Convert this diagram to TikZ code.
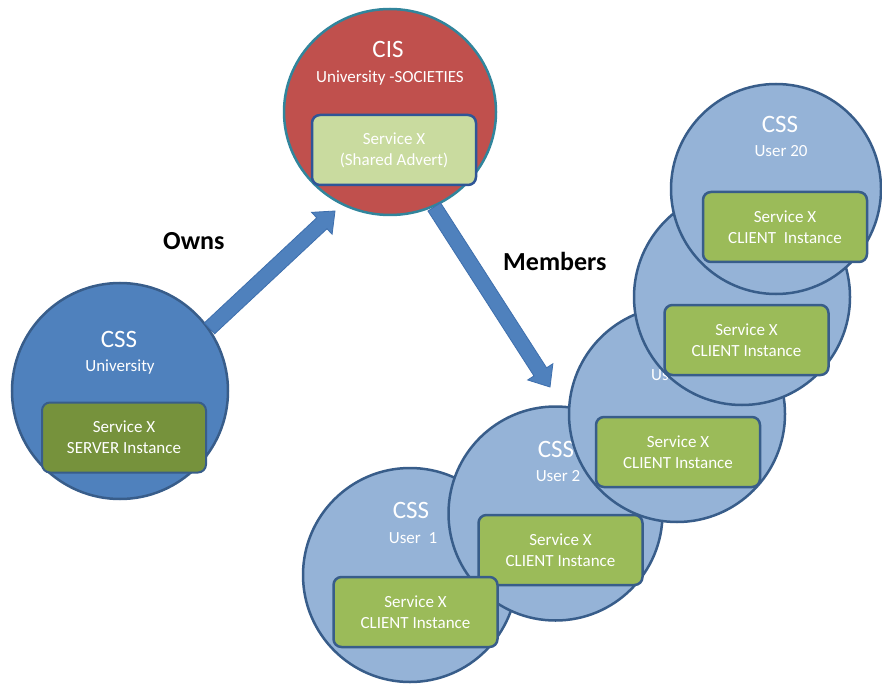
\documentclass[tikz,border=0pt]{standalone}
\usepackage{fontspec}
\setmainfont{Carlito}
\usetikzlibrary{calc,shapes.geometric}
\definecolor{uniblue}{HTML}{4F81BD}
\definecolor{darkblue}{HTML}{385D8A}
\definecolor{lightblue}{HTML}{95B3D7}
\definecolor{cisred}{HTML}{C0504D}
\definecolor{cisedge}{HTML}{31859C}
\definecolor{olivebox}{HTML}{76923C}
\definecolor{greenbox}{HTML}{9BBB59}
\definecolor{palegreen}{HTML}{C9DB9F}
\definecolor{boxblue}{HTML}{2F5597}
\definecolor{arrowedge}{HTML}{3E6FAD}
\newcommand{\blockarrow}[2]{%
  \coordinate (#1-h) at ($(#2)!18pt!(#1)$);
  \filldraw[fill=uniblue, draw=arrowedge, line width=0.8pt, line join=miter]
    ($(#1)!7.5pt!90:(#2)$) -- ($(#1-h)!7.5pt!-90:(#1)$) -- ($(#1-h)!15pt!-90:(#1)$)
    -- (#2) -- ($(#1-h)!15pt!90:(#1)$) -- ($(#1-h)!7.5pt!90:(#1)$)
    -- ($(#1)!7.5pt!-90:(#2)$) -- cycle;
}
\tikzset{
  usercirc/.style={circle, draw=darkblue, fill=lightblue, line width=2.5pt, minimum size=#1, inner sep=0pt},
  svcbox/.style={rectangle, rounded corners=8pt, draw=darkblue, fill=greenbox, line width=2.5pt,
    minimum width=164pt, minimum height=70pt, inner sep=0pt, align=center, text=white,
    font=\fontsize{17}{21}\selectfont},
  bigtitle/.style={anchor=base, text=white, inner sep=0pt, font=\fontsize{25}{30}\selectfont},
  subtitle/.style={anchor=base, text=white, inner sep=0pt, font=\fontsize{17}{21}\selectfont},
  arrowlabel/.style={anchor=base west, inner sep=0pt, text=black, font=\fontsize{26}{31}\selectfont\bfseries},
}
\begin{document}
\begin{tikzpicture}[x=1pt, y=-1pt]
\useasboundingbox (0,0) rectangle (882,684);
\fill[white] (0,0) rectangle (882,684);

% University CSS
\node[circle, draw=darkblue, fill=uniblue, line width=2.5pt, minimum size=216pt, inner sep=0pt] (uni) at (120,391) {};
\node[bigtitle] (uniT) at (119,347) {CSS};
\node[subtitle] (uniS) at (120,371) {University};

% CIS
\node[ellipse, draw=cisedge, fill=cisred, line width=2.5pt, minimum width=212pt, minimum height=206pt, inner sep=0pt] (cis) at (390,112) {};
\node[bigtitle] (cisT) at (388,58) {CIS};
\node[subtitle] (cisS) at (390,83) {University -SOCIETIES};

% user circles
\node[usercirc=214pt] (u1) at (410,575) {};
\node[bigtitle] (u1T) at (411,518) {CSS};
\node[subtitle] (u1S) at (413,543) {User~ 1};

\node[usercirc=214pt] (u2) at (555.5,513.5) {};
\node[bigtitle] (u2T) at (556,457) {CSS};
\node[subtitle] (u2S) at (558,481) {User 2};

\node[usercirc=216pt] (u3) at (677,414) {};
\node[subtitle, anchor=base west] (u3S) at (651,380) {Us};

\node[usercirc=216pt] (u4) at (742,297) {};

\node[usercirc=210pt] (u20) at (776,189) {};
\node[bigtitle] (u20T) at (780,133) {CSS};
\node[subtitle] (u20S) at (781,157) {User 20};

% service boxes
\node[svcbox, fill=olivebox, line width=2pt] (uniBox) at (124,437.5) {Service X\\SERVER Instance};
\node[svcbox, fill=palegreen, draw=boxblue] (cisBox) at (394,150) {Service X\\(Shared Advert)};
\node[svcbox] (u20Box) at (785,227) {Service X\\CLIENT~ Instance};
\node[svcbox] (u4Box) at (746.5,340) {Service X\\CLIENT Instance};
\node[svcbox] (u3Box) at (678,452) {Service X\\CLIENT Instance};
\node[svcbox] (u2Box) at (560.5,550) {Service X\\CLIENT Instance};
\node[svcbox] (u1Box) at (415.5,612) {Service X\\CLIENT Instance};

% arrows
\coordinate (ownsTail) at (uni.35);
\coordinate (ownsTip) at (335,211);
\blockarrow{ownsTail}{ownsTip}
\coordinate (memTail) at (cis.-65);
\coordinate (memTip) at (550,387);
\blockarrow{memTail}{memTip}

\node[arrowlabel] (owns) at (163,250) {Owns};
\node[arrowlabel] (members) at (503,270) {Members};
\end{tikzpicture}
\end{document}
